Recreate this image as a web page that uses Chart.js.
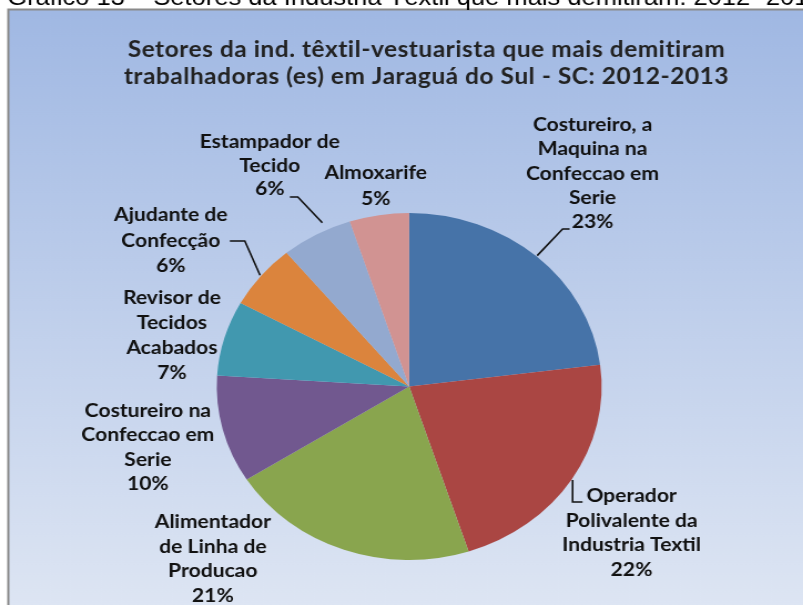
<!DOCTYPE html>
<html><head><meta charset="utf-8">
<script src="https://cdn.jsdelivr.net/npm/chart.js@4/dist/chart.umd.min.js"></script>
<style>
html,body{margin:0;padding:0;background:#fff;overflow:hidden;width:803px;height:605px;}
#wrap{position:absolute;left:0;top:0;width:724px;height:605px;transform:scaleX(1.1092);transform-origin:0 0;}
canvas{display:block;}
</style></head><body>
<div id="wrap"><canvas id="c" width="724" height="605"></canvas></div>
<script>
// ---- data ----
const caption = 'Gráfico 13 – Setores da Indústria Têxtil que mais demitiram: 2012- 2013';
const titleLines = ['Setores da ind. têxtil-vestuarista que mais demitiram', 'trabalhadoras (es) em Jaraguá do Sul - SC: 2012-2013'];
const categories = [
  ['Costureiro, a', 'Maquina na', 'Confeccao em', 'Serie'],
  ['Operador', 'Polivalente da', 'Industria Textil'],
  ['Alimentador', 'de Linha de', 'Producao'],
  ['Costureiro na', 'Confeccao em', 'Serie'],
  ['Revisor de', 'Tecidos', 'Acabados'],
  ['Ajudante de', 'Confecção'],
  ['Estampador de', 'Tecido'],
  ['Almoxarife']
];
const values = [23, 22, 21, 10, 7, 6, 6, 5];
const sliceColors = ['#4673a8', '#aa4643', '#89a54e', '#71588f', '#4198af', '#db843d', '#93a9cf', '#d19392'];

// ---- label layout (canvas coords, before horizontal stretch) ----
const labelLayout = [
  {x: 534.2, y: 125, lh: 24.3, leader: {t: 0.5, dr: 1, pts: [[507.2, 229], [513.5, 229]]}},
  {x: 569.4, y: 496, lh: 24.6, leader: {t: 0.5, dr: 1, pts: [[516.2, 502], [525.2, 502]]}},
  {x: 191.9, y: 522, lh: 24.6},
  {x: 133.3, y: 411, lh: 24.2},
  {x: 155.0, y: 298, lh: 25.0},
  {x: 154.0, y: 215, lh: 25.5, leader: {t: 0.5, dr: 1, pts: [[220.7, 241], [207.2, 241]]}},
  {x: 243.2, y: 142, lh: 23.5, leader: {t: 0.65, dr: 8, pts: [[268.5, 197], [261.3, 197]]}},
  {x: 338.7, y: 173, lh: 26}
];

const total = values.reduce((a, b) => a + b, 0);
const pct = values.map(v => Math.round(v / total * 100) + '%');

const decor = {
  id: 'decor',
  beforeDraw(chart) {
    const ctx = chart.ctx, W = chart.width, H = chart.height;
    ctx.save();
    ctx.fillStyle = '#ffffff';
    ctx.fillRect(0, 0, W, H);
    const g = ctx.createLinearGradient(0, 10, 0, H);
    g.addColorStop(0, '#a0b8e3');
    g.addColorStop(1, '#dde5f3');
    ctx.fillStyle = g;
    ctx.fillRect(7.5, 9.5, W, H);
    ctx.strokeStyle = '#8a8a8a';
    ctx.lineWidth = 2;
    ctx.beginPath();
    ctx.moveTo(7.5, H + 5); ctx.lineTo(7.5, 9.5); ctx.lineTo(W + 5, 9.5);
    ctx.stroke();
    ctx.fillStyle = '#000';
    ctx.font = '23px "Liberation Sans", Arial, sans-serif';
    ctx.textAlign = 'left';
    ctx.textBaseline = 'alphabetic';
    ctx.fillText(caption, 6.5, 5);
    ctx.fillStyle = '#222';
    ctx.font = 'bold 22px Lato, "Open Sans", sans-serif';
    ctx.letterSpacing = '0.5px';
    ctx.textAlign = 'center';
    ctx.textBaseline = 'middle';
    ctx.fillText(titleLines[0], 384.5, 50);
    ctx.fillText(titleLines[1], 384.5, 77);
    ctx.restore();
  },
  afterDatasetsDraw(chart) {
    const ctx = chart.ctx;
    const meta = chart.getDatasetMeta(0);
    ctx.save();
    ctx.fillStyle = '#111';
    ctx.strokeStyle = '#111';
    ctx.lineWidth = 1.6;
    ctx.font = 'bold 19px Lato, "Open Sans", sans-serif';
    ctx.textAlign = 'center';
    ctx.textBaseline = 'middle';
    meta.data.forEach((arc, i) => {
      const L = labelLayout[i];
      const lines = categories[i].concat([pct[i]]);
      lines.forEach((s, k) => ctx.fillText(s, L.x, L.y + k * L.lh));
      if (L.leader) {
        const p = arc.getProps(['x', 'y', 'startAngle', 'endAngle', 'outerRadius'], true);
        const a = p.startAngle + L.leader.t * (p.endAngle - p.startAngle);
        const r = p.outerRadius + L.leader.dr;
        ctx.beginPath();
        ctx.moveTo(p.x + Math.cos(a) * r, p.y + Math.sin(a) * r);
        L.leader.pts.forEach(q => ctx.lineTo(q[0], q[1]));
        ctx.stroke();
      }
    });
    ctx.restore();
  }
};

new Chart(document.getElementById('c'), {
  type: 'pie',
  data: {
    labels: categories,
    datasets: [{data: values, backgroundColor: sliceColors, borderWidth: 0}]
  },
  options: {
    responsive: false,
    animation: false,
    layout: {padding: {left: 195.4, right: 181.6, top: 213, bottom: 45}},
    plugins: {legend: {display: false}, tooltip: {enabled: false}, title: {display: false}}
  },
  plugins: [decor]
});
</script>
</body></html>
